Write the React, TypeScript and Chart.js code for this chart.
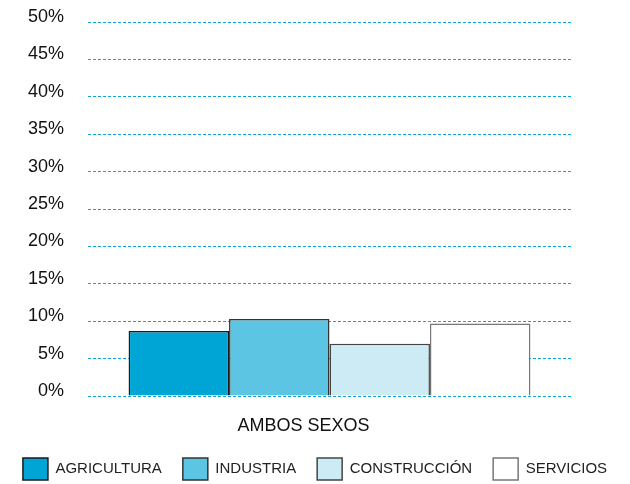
import React, { useEffect, useRef } from "react";
import { Chart, registerables } from "chart.js";

Chart.register(...registerables);

const categories = ["AMBOS SEXOS"];
const seriesNames = ["AGRICULTURA", "INDUSTRIA", "CONSTRUCCIÓN", "SERVICIOS"];
const agricultura = [8.7];
const industria = [10.3];
const construccion = [7.0];
const servicios = [9.7];
const yTicks = [0, 5, 10, 15, 20, 25, 30, 35, 40, 45, 50];

const fillColors = ["#00a5d5", "#5bc5e3", "#cdebf5", "#ffffff"];
const borderColors = ["#1a1a1a", "#333333", "#444444", "#777777"];

const FONT = "'Liberation Sans', Arial, sans-serif";

export default function App() {
  const ref = useRef<HTMLCanvasElement | null>(null);

  useEffect(() => {
    document.body.style.margin = "0";
    const values = [agricultura, industria, construccion, servicios];
    const chart = new Chart(ref.current as HTMLCanvasElement, {
      type: "bar",
      data: {
        labels: categories,
        datasets: seriesNames.map((name, i) => ({
          label: name,
          data: values[i],
          backgroundColor: fillColors[i],
          borderColor: borderColors[i],
          borderWidth: 1.5,
          categoryPercentage: 0.832,
          barPercentage: 1.0,
        })),
      },
      options: {
        animation: false,
        responsive: false,
        maintainAspectRatio: false,
        layout: { padding: { left: 0, right: 0, top: 22, bottom: -6 } },
        plugins: {
          tooltip: { enabled: false },
          legend: {
            position: "bottom",
            labels: {
              boxWidth: 25,
              boxHeight: 22,
              padding: 21,
              color: "#222",
              font: { family: FONT, size: 15 },
            },
          },
        },
        scales: {
          x: {
            grid: { display: false },
            border: { display: false },
            ticks: {
              color: "#111",
              padding: 11,
              labelOffset: -26,
              font: { family: FONT, size: 18 },
            },
            afterFit: (scale: any) => {
              scale.height = 41;
            },
          },
          y: {
            min: 0,
            max: 50,
            afterBuildTicks: (scale: any) => {
              scale.ticks = yTicks.map((v) => ({ value: v }));
            },
            afterFit: (scale: any) => {
              scale.width = 88;
            },
            grid: {
              drawTicks: true,
              tickLength: 24,
              tickColor: "rgba(0,0,0,0)",
              color: "#10a3d8",
              lineWidth: 1,
            },
            border: { display: false, dash: [3, 2] },
            ticks: {
              color: "#111",
              padding: 0,
              labelOffset: -5,
              font: { family: FONT, size: 18 },
              callback: (v: any) => v + "%",
            },
          },
          yRight: {
            position: "right",
            min: 0,
            max: 50,
            grid: { display: false },
            border: { display: false },
            ticks: { display: false },
            afterFit: (scale: any) => {
              scale.width = 59;
            },
          },
        },
      },
    });
    return () => chart.destroy();
  }, []);

  return (
    <div style={{ width: 630, height: 484 }}>
      <canvas ref={ref} width={630} height={484} style={{ display: "block" }} />
    </div>
  );
}
